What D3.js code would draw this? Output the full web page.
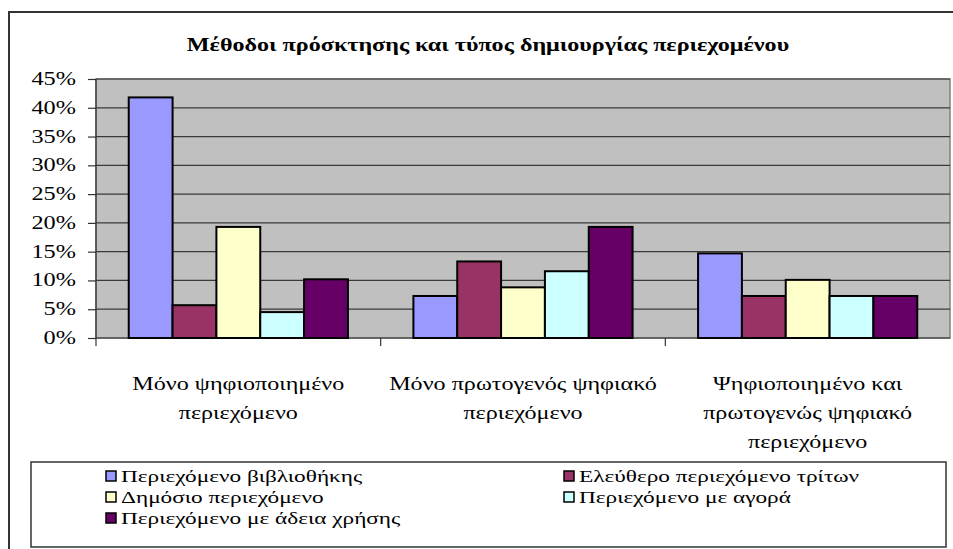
<!DOCTYPE html>
<html>
<head>
<meta charset="utf-8">
<script src="https://cdn.jsdelivr.net/npm/d3@7"></script>
<style>
  html, body { margin: 0; padding: 0; background: #ffffff; }
  svg { display: block; }
</style>
</head>
<body>
<svg id="chart" width="953" height="549"></svg>
<script>
const title = "Μέθοδοι πρόσκτησης και τύπος δημιουργίας περιεχομένου";
const categories = ["Μόνο ψηφιοποιημένο περιεχόμενο", "Μόνο πρωτογενός ψηφιακό περιεχόμενο", "Ψηφιοποιημένο και πρωτογενώς ψηφιακό περιεχόμενο"];
const categoryLines = [["Μόνο ψηφιοποιημένο", "περιεχόμενο"], ["Μόνο πρωτογενός ψηφιακό", "περιεχόμενο"], ["Ψηφιοποιημένο και", "πρωτογενώς ψηφιακό", "περιεχόμενο"]];
const seriesNames = ["Περιεχόμενο βιβλιοθήκης", "Ελεύθερο περιεχόμενο τρίτων", "Δημόσιο περιεχόμενο", "Περιεχόμενο με αγορά", "Περιεχόμενο με άδεια χρήσης"];
const libraryContent = [41.8, 7.3, 14.7];
const freeThirdParty = [5.7, 13.3, 7.3];
const publicContent = [19.3, 8.8, 10.1];
const purchasedContent = [4.5, 11.6, 7.3];
const licensedContent = [10.2, 19.3, 7.3];
const seriesValues = [libraryContent, freeThirdParty, publicContent, purchasedContent, licensedContent];
const seriesColors = ["#9999FF", "#993366", "#FFFFCC", "#CCFFFF", "#660066"];
const yTicks = [0, 5, 10, 15, 20, 25, 30, 35, 40, 45];

const FONT = "Liberation Serif";
const svg = d3.select("#chart");
const plot = { left: 96, right: 950, top: 79, bottom: 338 };

// helper: text anchored at (x,y) and stretched horizontally (the reference text is widened)
function stretchedText(parent, x, y, str, size, anchor, sx, bold) {
  const g = parent.append("g").attr("transform", `translate(${x},${y}) scale(${sx},1)`);
  return g.append("text").attr("x", 0).attr("y", 0).attr("text-anchor", anchor)
    .style("font-family", FONT).style("font-size", size + "px")
    .style("font-weight", bold ? "bold" : "normal").attr("fill", "#000").text(str);
}

// outer frame
svg.append("rect").attr("x", 9).attr("y", 12).attr("width", 960).attr("height", 560)
  .attr("fill", "#fff").attr("stroke", "#333").attr("stroke-width", 2);

// title
stretchedText(svg, 488, 51, title, 19, "middle", 1.27, true);

const y = d3.scaleLinear().domain([0, 45]).range([plot.bottom, plot.top]);
const x0 = d3.scaleBand().domain(categories).range([plot.left, plot.right]).padding(0);
const bw = x0.bandwidth();
const x1 = d3.scaleBand().domain(seriesNames).range([bw * 0.115, bw * 0.885]).padding(0);

// plot background
svg.append("rect").attr("x", plot.left).attr("y", plot.top)
  .attr("width", plot.right - plot.left).attr("height", plot.bottom - plot.top)
  .attr("fill", "#C0C0C0").attr("stroke", "#808080").attr("stroke-width", 1.5);

// gridlines
svg.append("g").selectAll("line").data(yTicks.filter(d => d > 0)).join("line")
  .attr("x1", plot.left).attr("x2", plot.right)
  .attr("y1", d => y(d)).attr("y2", d => y(d))
  .attr("stroke", "#3a3a3a").attr("stroke-width", 1.2);

// y axis (ticks via d3 axis, labels stretched)
const yAxis = d3.axisLeft(y).tickValues(yTicks).tickSize(8).tickFormat("");
const gy = svg.append("g").attr("transform", `translate(${plot.left},0)`).call(yAxis);
gy.select(".domain").remove();
gy.selectAll(".tick line").attr("stroke", "#333").attr("stroke-width", 1.2);
const yLab = svg.append("g");
yTicks.forEach(t => stretchedText(yLab, 76, y(t) + 6, t + "%", 18, "end", 1.35, false));
svg.append("line").attr("x1", plot.left).attr("x2", plot.left).attr("y1", plot.top).attr("y2", plot.bottom + 8)
  .attr("stroke", "#333").attr("stroke-width", 1.2);

// x axis line and ticks
svg.append("line").attr("x1", plot.left).attr("x2", plot.right).attr("y1", plot.bottom).attr("y2", plot.bottom)
  .attr("stroke", "#333").attr("stroke-width", 1.2);
svg.append("g").selectAll("line").data(categories.slice(1)).join("line")
  .attr("x1", d => x0(d)).attr("x2", d => x0(d))
  .attr("y1", plot.bottom).attr("y2", plot.bottom + 8)
  .attr("stroke", "#333").attr("stroke-width", 1.2);

// bars
const groups = svg.append("g").selectAll("g").data(categories).join("g")
  .attr("transform", d => `translate(${x0(d)},0)`);
groups.selectAll("rect").data((c, ci) => seriesNames.map((s, si) => ({ s, si, v: seriesValues[si][ci] })))
  .join("rect")
  .attr("x", d => x1(d.s)).attr("width", x1.bandwidth())
  .attr("y", d => y(d.v)).attr("height", d => y(0) - y(d.v))
  .attr("fill", d => seriesColors[d.si]).attr("stroke", "#000").attr("stroke-width", 2);

// category labels
const cl = svg.append("g");
categories.forEach((c, i) => {
  categoryLines[i].forEach((line, j) => {
    stretchedText(cl, x0(c) + bw / 2, 390 + j * 29, line, 19, "middle", 1.27, false);
  });
});

// legend
svg.append("rect").attr("x", 31).attr("y", 462).attr("width", 915).attr("height", 85)
  .attr("fill", "#fff").attr("stroke", "#333").attr("stroke-width", 1.5);
const legendCols = [106, 564];
const leg = svg.append("g");
seriesNames.forEach((s, i) => {
  const lx = legendCols[i % 2], ly = 476 + Math.floor(i / 2) * 21;
  leg.append("rect").attr("x", lx).attr("y", ly - 5).attr("width", 10).attr("height", 10)
    .attr("fill", seriesColors[i]).attr("stroke", "#000").attr("stroke-width", 1.5);
  stretchedText(leg, lx + 15, ly + 6, s, 17, "start", 1.37, false);
});
</script>
</body>
</html>
